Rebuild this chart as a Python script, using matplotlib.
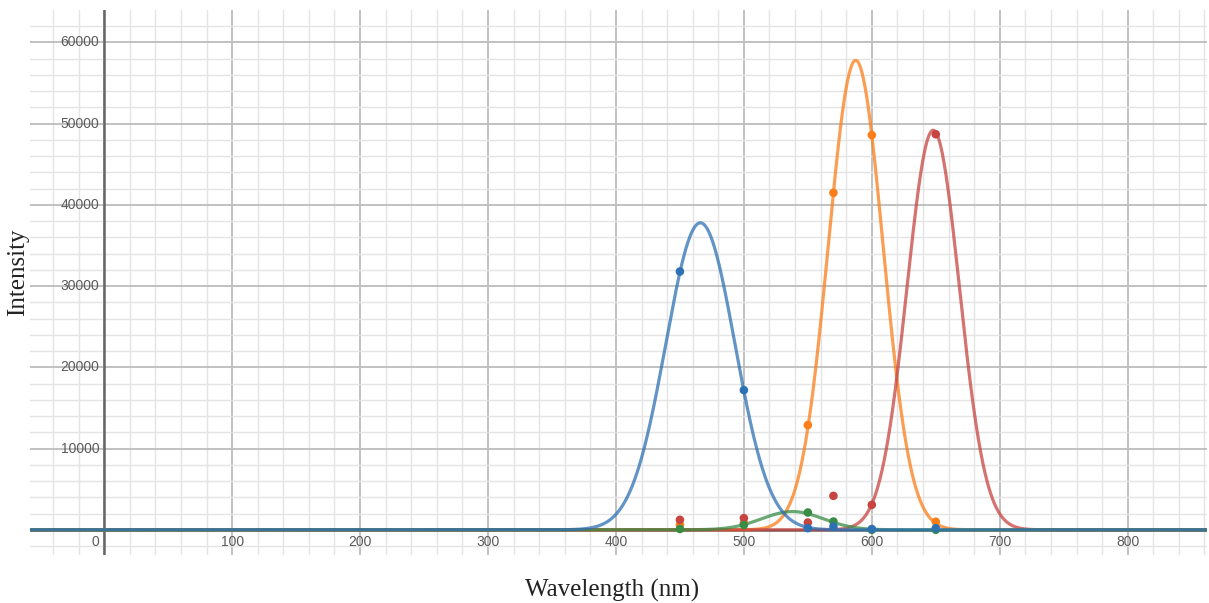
import numpy as np
import matplotlib
matplotlib.use("Agg")
import matplotlib.pyplot as plt

# measured points (wavelength nm -> intensity), one list per channel
wavelengths = [450, 500, 550, 570, 600, 650]
blue_pts = [31800, 17200, 200, 400, 100, 200]
orange_pts = [600, 850, 12900, 41500, 48600, 1000]
red_pts = [1230, 1440, 900, 4180, 3080, 48700]
green_pts = [100, 600, 2130, 1020, 0, 0]

# gaussian fit parameters: amplitude, centre, sigma
blue_fit = [37800, 466, 27]
orange_fit = [57800, 587.4, 21.4]
red_fit = [49200, 648, 20.5]
green_fit = [2250, 538, 24]

x_ticks = [100, 200, 300, 400, 500, 600, 700, 800]
y_ticks = [10000, 20000, 30000, 40000, 50000, 60000]

colors = {"blue": "#2d70b3", "orange": "#fa7e19", "red": "#c74440", "green": "#388c46"}

fig = plt.figure(figsize=(12.09, 6.03), dpi=100)
ax = fig.add_axes([30 / 1209, 1 - 555 / 603, 1177 / 1209, 545 / 603])
ax.set_xlim(-58, 862)
ax.set_ylim(-3100, 64000)

# grid like desmos
for xv in np.arange(-40, 862, 20):
    major = xv % 100 == 0
    ax.axvline(xv, color="#bcbcbc" if major else "#e4e4e4", lw=1.3 if major else 1.0, zorder=0)
for yv in np.arange(-2000, 64000, 2000):
    major = yv % 10000 == 0
    ax.axhline(yv, color="#bcbcbc" if major else "#e4e4e4", lw=1.3 if major else 1.0, zorder=0)

ax.axvline(0, color="#666666", lw=1.8, zorder=1)
ax.axhline(0, color="#666666", lw=1.8, zorder=1)

for s in ax.spines.values():
    s.set_visible(False)
ax.set_xticks([])
ax.set_yticks([])

xs = np.linspace(-58, 862, 3000)


def gauss(p):
    a, mu, sig = p
    return a * np.exp(-(xs - mu) ** 2 / (2 * sig ** 2))


# draw order: orange, red, green, blue on top
for name, fit, z in [("orange", orange_fit, 2), ("red", red_fit, 3),
                     ("green", green_fit, 4), ("blue", blue_fit, 5)]:
    ax.plot(xs, gauss(fit), color=colors[name], lw=2.3, alpha=0.75, zorder=z,
            solid_capstyle="round")
for name, pts, z in [("orange", orange_pts, 6), ("red", red_pts, 7),
                     ("green", green_pts, 8), ("blue", blue_pts, 9)]:
    ax.scatter(wavelengths, pts, s=38, color=colors[name], zorder=z, edgecolors="none")

lab = dict(color="#5a5a5a", fontsize=10, family="Liberation Sans")
for t in y_ticks:
    ax.annotate(str(t), (0, t), xytext=(-5, 0), textcoords="offset pixels",
                ha="right", va="center", **lab)
for t in x_ticks:
    ax.annotate(str(t), (t, 0), xytext=(0, -12), textcoords="offset pixels",
                ha="center", va="center", **lab)
ax.annotate("0", (0, 0), xytext=(-9, -12), textcoords="offset pixels",
            ha="center", va="center", **lab)

fig.text(18 / 1209, 1 - 272 / 603, "Intensity", rotation=90, ha="center", va="center",
         fontsize=18, family="Liberation Serif", color="#222222")
fig.text(612 / 1209, 1 - 590 / 603, "Wavelength (nm)", ha="center", va="center",
         fontsize=18, family="Liberation Serif", color="#222222")

fig.savefig("out.png", dpi=100)
